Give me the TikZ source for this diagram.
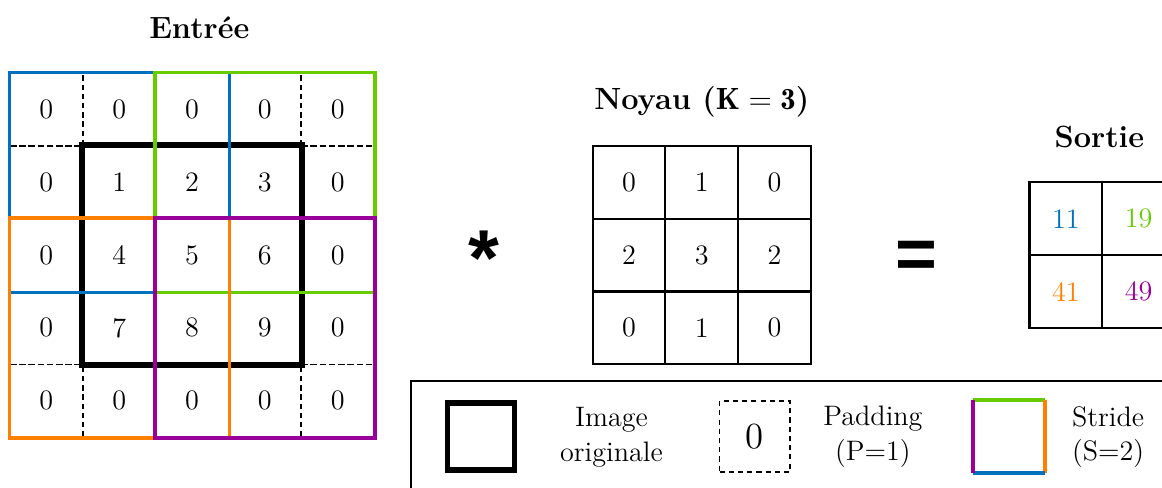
\documentclass[tikz,border=0pt]{standalone}
\usepackage{fontspec}
\newfontfamily\symbfont{Liberation Sans}

\definecolor{sblue}{RGB}{0,114,189}
\definecolor{sgreen}{RGB}{102,204,0}
\definecolor{sorange}{RGB}{255,128,0}
\definecolor{spurple}{RGB}{153,0,153}

\tikzset{
    cell/.style={minimum size=1cm, inner sep=0pt},
    padcell/.style={cell, draw, line width=0.6pt, dash pattern=on 2pt off 1.6pt},
    imgcell/.style={cell, draw, line width=0.6pt},
    gridcell/.style={cell, draw, line width=0.8pt},
    orig/.style={draw=black, line width=2.2pt},
    stride/.style={line width=1.3pt},
    titre/.style={font=\fontsize{12}{14.5}\selectfont\bfseries},
}

\begin{document}
\begin{tikzpicture}[font=\fontsize{11}{13.6}\selectfont]
    \path[use as bounding box] (-0.137,-0.687) rectangle (15.82,6.003);
    \clip (-0.137,-0.687) rectangle (15.82,6.003);

    \node[titre] (entree) at (2.6,5.62) {Entrée};
    \node[titre] (noyau) at (9.5,4.6) {Noyau ($\mathbf{K = 3}$)};
    \node[titre] (sortie) at (14.96,4.12) {Sortie};

% entree : padding
\begin{scope}[every node/.style={padcell}]
    \node (e00) at (0.5,4.5) {0};
    \node (e01) at (1.5,4.5) {0};
    \node (e02) at (2.5,4.5) {0};
    \node (e03) at (3.5,4.5) {0};
    \node (e04) at (4.5,4.5) {0};

    \node (e10) at (0.5,3.5) {0};
    \node (e14) at (4.5,3.5) {0};
    \node (e20) at (0.5,2.5) {0};
    \node (e24) at (4.5,2.5) {0};
    \node (e30) at (0.5,1.5) {0};
    \node (e34) at (4.5,1.5) {0};

    \node (e40) at (0.5,0.5) {0};
    \node (e41) at (1.5,0.5) {0};
    \node (e42) at (2.5,0.5) {0};
    \node (e43) at (3.5,0.5) {0};
    \node (e44) at (4.5,0.5) {0};
\end{scope}

% entree : image
\begin{scope}[every node/.style={imgcell}]
    \node (e11) at (1.5,3.5) {1};
    \node (e12) at (2.5,3.5) {2};
    \node (e13) at (3.5,3.5) {3};
    \node (e21) at (1.5,2.5) {4};
    \node (e22) at (2.5,2.5) {5};
    \node (e23) at (3.5,2.5) {6};
    \node (e31) at (1.5,1.5) {7};
    \node (e32) at (2.5,1.5) {8};
    \node (e33) at (3.5,1.5) {9};
\end{scope}

    \draw[orig] (e11.north west) rectangle (e33.south east);

\begin{scope}[every path/.style={stride}]
    \draw[sblue] (e00.north west) rectangle (e22.south east);
    \draw[sgreen] (e02.north west) rectangle (e24.south east);
    \draw[sorange] (e20.north west) rectangle (e42.south east);
    \draw[spurple] (e22.north west) rectangle (e44.south east);
\end{scope}

    \node (conv) at (6.51,2.46) {\symbfont\bfseries\fontsize{31}{31}\selectfont *};

% noyau
\begin{scope}[every node/.style={gridcell}]
    \node (k00) at (8.5,3.5) {0};
    \node (k01) at (9.5,3.5) {1};
    \node (k02) at (10.5,3.5) {0};
    \node (k10) at (8.5,2.5) {2};
    \node (k11) at (9.5,2.5) {3};
    \node (k12) at (10.5,2.5) {2};
    \node (k20) at (8.5,1.5) {0};
    \node (k21) at (9.5,1.5) {1};
    \node (k22) at (10.5,1.5) {0};
\end{scope}

    \node (eq) at (12.45,2.44) {\symbfont\bfseries\fontsize{28}{28}\selectfont =};

% sortie
\begin{scope}[every node/.style={gridcell}]
    \node[text=sblue] (s00) at (14.5,3) {11};
    \node[text=sgreen] (s01) at (15.5,3) {19};
    \node[text=sorange] (s10) at (14.5,2) {41};
    \node[text=spurple] (s11) at (15.5,2) {49};
\end{scope}

% legende
    \draw[line width=0.8pt] (5.51,0.77) rectangle (16.6,-1.2);

    \node[cell, minimum size=0.92cm, orig] (lorig) at (6.47,0.01) {};
    \node[align=center] (torig) at (8.26,0) {Image\\originale};

    \node[padcell, minimum size=0.97cm, font=\fontsize{14.4}{17}\selectfont] (lpad) at (10.23,0.01) {0};
    \node[align=center] (tpad) at (11.85,0) {Padding\\(P=1)};

    \node[cell, minimum size=0.98cm] (lstride) at (13.72,0.01) {};
\begin{scope}[every path/.style={stride, line width=1.6pt}]
    \draw[sgreen] (lstride.north west) -- (lstride.north east);
    \draw[sorange] (lstride.north east) -- (lstride.south east);
    \draw[sblue] (lstride.south east) -- (lstride.south west);
    \draw[spurple] (lstride.south west) -- (lstride.north west);
\end{scope}
    \node[align=center] (tstride) at (15.08,0) {Stride\\(S=2)};
\end{tikzpicture}
\end{document}
